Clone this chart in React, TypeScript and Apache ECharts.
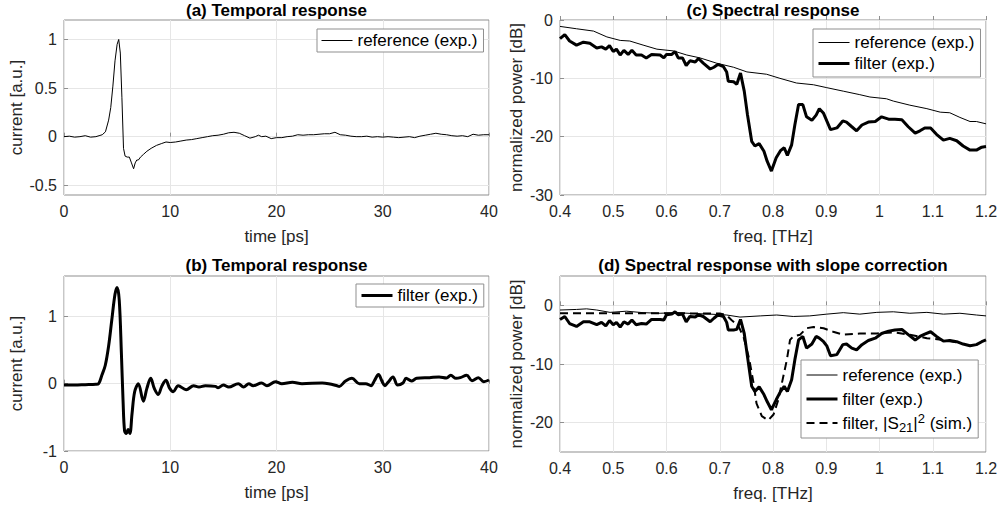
import React, { useEffect, useRef } from 'react';
import * as echarts from 'echarts';

// ---------- data ----------
const aTime = [0, 0.5, 1, 1.5, 2, 2.5, 3, 3.3, 3.6, 3.9, 4.2, 4.4, 4.6, 4.8, 5.0, 5.15, 5.3, 5.45, 5.6, 5.75, 5.95, 6.15, 6.35, 6.55, 6.7, 6.85, 7.0, 7.2, 7.5, 7.8, 8.2, 8.7, 9.2, 9.6, 10, 10.5, 11, 11.5, 12, 12.5, 13, 13.5, 14, 14.5, 15, 15.5, 16, 16.5, 17, 17.5, 18, 18.3, 18.6, 19, 19.5, 20, 20.5, 21, 21.5, 22, 22.5, 23, 23.5, 24, 24.5, 25, 25.5, 26, 26.5, 27, 27.5, 28, 28.5, 29, 29.5, 30, 30.5, 31, 31.5, 32, 32.5, 33, 33.5, 34, 34.5, 35, 35.5, 36, 36.5, 37, 37.5, 38, 38.5, 39, 39.5, 40];
const aRef = [0.0, 0.005, -0.005, 0.0, 0.01, -0.005, 0.0, 0.01, 0.02, 0.05, 0.17, 0.3, 0.52, 0.78, 0.95, 1.0, 0.86, 0.4, -0.12, -0.2, -0.21, -0.21, -0.27, -0.33, -0.27, -0.24, -0.24, -0.21, -0.18, -0.15, -0.12, -0.09, -0.07, -0.055, -0.06, -0.055, -0.045, -0.035, -0.03, -0.02, -0.01, 0.0, 0.01, 0.015, 0.025, 0.04, 0.045, 0.035, 0.01, -0.015, 0.0, 0.015, 0.0, 0.005, -0.02, -0.01, -0.01, 0.0, 0.005, 0.02, 0.015, 0.02, 0.02, 0.025, 0.03, 0.03, 0.045, 0.02, 0.015, 0.005, 0.0, 0.0, 0.005, -0.005, 0.0, -0.005, 0.0, -0.005, -0.01, -0.005, 0.0, -0.01, 0.005, 0.015, 0.025, 0.035, 0.025, 0.02, 0.01, 0.005, 0.01, 0.0, 0.025, 0.015, 0.02, 0.02];

const bTime = [0, 1, 2, 3, 3.26, 3.57, 3.88, 4.2, 4.5, 4.8, 5.0, 5.2, 5.4, 5.56, 5.7, 5.87, 6.03, 6.2, 6.4, 6.65, 7.0, 7.47, 7.8, 8.16, 8.5, 8.87, 9.2, 9.59, 9.95, 10.28, 10.75, 11.5, 12.2, 12.7, 13.3, 14.25, 14.5, 15.0, 15.5, 16.4, 16.9, 17.4, 17.8, 18.6, 19.1, 19.9, 20.5, 21.5, 22.4, 24.3, 24.9, 25.7, 25.9, 26.5, 27.1, 27.8, 28.4, 28.9, 29.2, 29.6, 29.95, 30.2, 30.5, 30.96, 31.4, 31.9, 32.2, 32.7, 33.2, 34.4, 35.3, 36.0, 36.4, 36.9, 37.3, 37.9, 38.4, 39.0, 39.5, 40];
const bFilter = [-0.02, -0.02, -0.015, -0.01, 0.0, 0.13, 0.27, 0.56, 0.95, 1.33, 1.43, 1.24, 0.46, -0.26, -0.7, -0.74, -0.68, -0.74, -0.45, -0.12, 0.0, -0.26, -0.07, 0.08, -0.07, -0.16, -0.04, 0.05, -0.07, -0.12, -0.03, -0.09, -0.03, -0.05, -0.03, -0.04, -0.06, -0.02, -0.05, 0.0, -0.05, 0.0, -0.03, 0.01, -0.03, 0.03, 0.0, 0.02, 0.0, 0.01, 0.0, -0.03, -0.04, 0.04, 0.08, 0.0, 0.0, -0.03, 0.04, 0.135, 0.03, -0.03, 0.02, 0.1, -0.02, 0.01, 0.08, 0.04, 0.08, 0.09, 0.1, 0.085, 0.125, 0.08, 0.09, 0.125, 0.045, 0.09, 0.03, 0.055];

const specFreq = [0.400, 0.409, 0.418, 0.431, 0.444, 0.456, 0.469, 0.478, 0.486, 0.493, 0.500, 0.506, 0.513, 0.520, 0.528, 0.535, 0.543, 0.553, 0.562, 0.572, 0.588, 0.595, 0.600, 0.610, 0.616, 0.622, 0.630, 0.637, 0.644, 0.654, 0.660, 0.669, 0.682, 0.689, 0.697, 0.707, 0.713, 0.716, 0.726, 0.732, 0.739, 0.746, 0.752, 0.760, 0.766, 0.774, 0.783, 0.789, 0.797, 0.806, 0.814, 0.821, 0.827, 0.835, 0.841, 0.848, 0.856, 0.863, 0.873, 0.881, 0.887, 0.895, 0.901, 0.908, 0.920, 0.931, 0.938, 0.948, 0.957, 0.967, 0.979, 0.992, 1.004, 1.017, 1.029, 1.042, 1.054, 1.067, 1.076, 1.085, 1.096, 1.107, 1.120, 1.132, 1.145, 1.157, 1.170, 1.182, 1.192, 1.200];
const cFilter = [-3.2, -2.5, -3.6, -4.3, -3.8, -4.0, -4.8, -4.6, -5.0, -4.4, -5.4, -5.0, -6.0, -5.2, -5.9, -5.2, -6.0, -6.0, -6.5, -5.9, -6.0, -6.5, -5.9, -5.9, -5.4, -6.5, -6.5, -7.8, -7.0, -7.2, -6.6, -7.4, -8.4, -8.1, -7.6, -8.0, -8.9, -10.5, -10.6, -11.0, -9.1, -12.2, -16.2, -20.8, -21.6, -21.2, -22.5, -24.2, -25.9, -23.6, -22.4, -21.9, -23.2, -21.4, -18.0, -14.5, -14.5, -16.6, -17.2, -16.3, -15.2, -16.0, -17.3, -18.8, -18.5, -17.3, -17.5, -18.3, -19.0, -18.0, -17.5, -17.4, -16.6, -17.0, -17.0, -17.1, -18.3, -19.4, -19.0, -18.5, -18.5, -19.6, -20.6, -20.3, -20.7, -21.6, -22.3, -22.3, -21.8, -21.7];
const dFilter = [-2.4, -1.9, -3.1, -3.6, -2.8, -2.8, -3.3, -2.9, -3.5, -2.6, -3.3, -2.9, -3.7, -2.8, -3.2, -2.5, -3.3, -3.1, -3.2, -2.4, -2.4, -2.5, -1.6, -1.5, -1.1, -1.6, -1.5, -2.8, -1.9, -2.0, -1.6, -1.9, -2.8, -2.2, -1.6, -1.9, -2.9, -4.2, -4.2, -4.1, -2.4, -4.8, -8.7, -13.8, -14.7, -13.9, -15.2, -16.4, -17.8, -16.1, -14.7, -13.8, -14.7, -12.7, -9.3, -5.9, -5.3, -7.3, -6.6, -5.3, -5.6, -6.2, -6.9, -8.6, -8.4, -6.7, -6.6, -7.3, -7.6, -6.7, -6.0, -5.6, -4.8, -4.4, -4.2, -4.1, -5.0, -5.9, -5.3, -4.9, -4.5, -5.3, -6.1, -6.0, -6.2, -6.6, -6.9, -6.7, -6.2, -5.9];

const cRefFreq = [0.400, 0.431, 0.463, 0.488, 0.513, 0.531, 0.556, 0.582, 0.613, 0.638, 0.663, 0.694, 0.726, 0.751, 0.788, 0.813, 0.844, 0.876, 0.901, 0.932, 0.963, 0.982, 1.013, 1.026, 1.057, 1.089, 1.114, 1.132, 1.151, 1.170, 1.182, 1.200];
const cRef = [-1.1, -1.5, -1.9, -2.9, -3.5, -3.6, -4.3, -5.0, -5.3, -6.0, -6.5, -7.4, -8.1, -8.9, -9.3, -10.0, -10.8, -11.1, -11.6, -12.2, -12.8, -13.2, -13.5, -13.9, -14.6, -15.2, -15.8, -15.9, -16.7, -17.4, -17.4, -17.8];

const dRefFreq = [0.400, 0.431, 0.450, 0.469, 0.494, 0.525, 0.556, 0.588, 0.619, 0.650, 0.682, 0.713, 0.738, 0.776, 0.807, 0.838, 0.869, 0.901, 0.932, 0.963, 0.995, 1.026, 1.057, 1.089, 1.120, 1.151, 1.182, 1.200];
const dRef = [-0.8, -0.7, -0.6, -0.8, -1.2, -1.0, -1.25, -1.35, -1.25, -1.4, -1.5, -1.65, -2.0, -1.8, -1.65, -1.9, -1.8, -1.5, -1.25, -1.5, -1.2, -1.1, -1.35, -1.2, -1.5, -1.35, -1.65, -1.8];

const dSimFreq = [0.400, 0.500, 0.600, 0.700, 0.713, 0.722, 0.735, 0.745, 0.755, 0.763, 0.769, 0.779, 0.791, 0.801, 0.810, 0.818, 0.826, 0.832, 0.838, 0.851, 0.863, 0.876, 0.895, 0.913, 0.932, 0.963, 0.995, 1.026, 1.057, 1.089, 1.120, 1.145];
const dSim = [-1.35, -1.35, -1.35, -1.4, -1.7, -2.5, -3.5, -5.5, -9.0, -13.0, -16.7, -18.9, -19.6, -18.6, -16.1, -12.7, -9.3, -5.9, -5.3, -5.0, -3.9, -3.7, -3.9, -4.5, -5.0, -4.8, -4.8, -4.6, -5.0, -5.6, -5.9, -6.3];

const titles = ['(a) Temporal response', '(b) Temporal response', '(c) Spectral response', '(d) Spectral response with slope correction'];
const REF = 'reference (exp.)';
const FIL = 'filter (exp.)';
const SIM = 'filter, |S21|2 (sim.)';

// ---------- style ----------
const FONT = '"Liberation Sans", Arial, Helvetica, sans-serif';
const INK = '#262626';
const FRAME = '#8f8f8f';
const GRIDC = '#e6e6e6';

const zip = (x: number[], y: number[]) => x.map((v, i) => [v, y[i]]);

export default function App() {
  const ref = useRef<HTMLDivElement>(null);
  useEffect(() => {
    const chart = echarts.init(ref.current!, null, { renderer: 'svg' });
    const rects = [
      { left: 64, top: 20, width: 425, height: 175 },
      { left: 64, top: 276, width: 425, height: 175 },
      { left: 560, top: 20, width: 426, height: 175 },
      { left: 560, top: 276, width: 426, height: 176 },
    ];
    const grid = rects.map((g) => ({ ...g, show: true, borderColor: FRAME, borderWidth: 1, backgroundColor: '#fff' }));

    const xAx = (gi: number, min: number, max: number, interval: number, name: string) => ({
      type: 'value', gridIndex: gi, min, max, interval,
      name, nameLocation: 'middle', nameGap: 33,
      nameTextStyle: { fontFamily: FONT, fontSize: 17, color: INK },
      axisLine: { show: false },
      axisTick: { show: true, inside: true, length: 4, lineStyle: { color: FRAME } },
      axisLabel: { fontFamily: FONT, fontSize: 16, color: INK, margin: 8 },
      splitLine: { show: true, lineStyle: { color: GRIDC, width: 1 } },
    });
    const yAx = (gi: number, min: number, max: number, ticks: number[], name: string, gap: number) => ({
      type: 'value', gridIndex: gi, min, max,
      name, nameLocation: 'middle', nameGap: gap,
      nameTextStyle: { fontFamily: FONT, fontSize: 17, color: INK },
      axisLine: { show: false },
      axisTick: { show: true, inside: true, length: 4, lineStyle: { color: FRAME }, customValues: ticks },
      axisLabel: { fontFamily: FONT, fontSize: 16, color: INK, margin: 7, customValues: ticks },
      splitLine: { show: true, lineStyle: { color: GRIDC, width: 1 } },
    });

    const line = (name: string, gi: number, data: number[][], width: number, dashed = false, z = 3, smooth: number | boolean = false) => ({
      type: 'line', name, xAxisIndex: gi, yAxisIndex: gi, data,
      symbol: 'none', showSymbol: false, z, smooth,
      lineStyle: { color: '#000', width, type: dashed ? [8, 5] : 'solid' },
      itemStyle: { color: '#000' },
    });

    const legBase = {
      orient: 'vertical', backgroundColor: '#fff', borderColor: FRAME, borderWidth: 1,
      itemWidth: 31, itemHeight: 14, itemGap: 4, padding: [4, 6, 4, 4],
      itemStyle: { opacity: 0 },
      lineStyle: { width: 'inherit', type: 'inherit', color: '#000' },
      textStyle: { fontFamily: FONT, fontSize: 17, color: '#000' },
      selectedMode: false,
    };

    const option: any = {
      animation: false,
      grid,
      xAxis: [
        xAx(0, 0, 40, 10, 'time [ps]'),
        xAx(1, 0, 40, 10, 'time [ps]'),
        xAx(2, 0.4, 1.2, 0.1, 'freq. [THz]'),
        xAx(3, 0.4, 1.2, 0.1, 'freq. [THz]'),
      ],
      yAxis: [
        yAx(0, -0.6, 1.2, [-0.5, 0, 0.5, 1], 'current [a.u.]', 39),
        yAx(1, -1, 1.6, [-1, 0, 1], 'current [a.u.]', 39),
        yAx(2, -30, 0, [-30, -20, -10, 0], 'normalized power [dB]', 35),
        yAx(3, -25, 5, [-20, -10, 0], 'normalized power [dB]', 35),
      ],
      legend: [
        { ...legBase, data: [REF], left: 317, top: 29, padding: [3, 6, 3, 4] },
        { ...legBase, data: [FIL], left: 356, top: 284, padding: [3, 6, 3, 4] },
        { ...legBase, data: [REF, FIL], left: 813, top: 29, padding: [5, 6, 5, 4] },
        {
          ...legBase, data: [REF, FIL, SIM], left: 801, top: 360, itemGap: 2,
          formatter: (n: string) => (n === SIM ? 'filter, |S{sub|21}|{sup|2} (sim.)' : n),
          textStyle: {
            fontFamily: FONT, fontSize: 17, color: '#000', lineHeight: 22,
            rich: {
              sub: { fontFamily: FONT, fontSize: 13, color: '#000', verticalAlign: 'bottom', lineHeight: 10 },
              sup: { fontFamily: FONT, fontSize: 13, color: '#000', verticalAlign: 'top', lineHeight: 10 },
            },
          },
        },
      ],
      graphic: titles.map((t, i) => ({
        type: 'text',
        x: rects[i].left + rects[i].width / 2,
        y: i % 2 === 0 ? 10 : 265,
        style: { text: t, fontFamily: FONT, fontWeight: 'bold', fontSize: 17, fill: '#000', align: 'center', verticalAlign: 'middle' },
      })),
      series: [
        line(REF, 0, zip(aTime, aRef), 1),
        line(FIL, 1, zip(bTime, bFilter), 3, false, 3, 0.35),
        line(REF, 2, zip(cRefFreq, cRef), 1),
        line(FIL, 2, zip(specFreq, cFilter), 3),
        line(REF, 3, zip(dRefFreq, dRef), 1),
        line(FIL, 3, zip(specFreq, dFilter), 3),
        line(SIM, 3, zip(dSimFreq, dSim), 2, true, 4),
      ],
    };
    chart.setOption(option);
    return () => chart.dispose();
  }, []);
  return <div ref={ref} style={{ position: 'absolute', left: 0, top: 0, width: 1001, height: 506, background: '#fff' }} />;
}
